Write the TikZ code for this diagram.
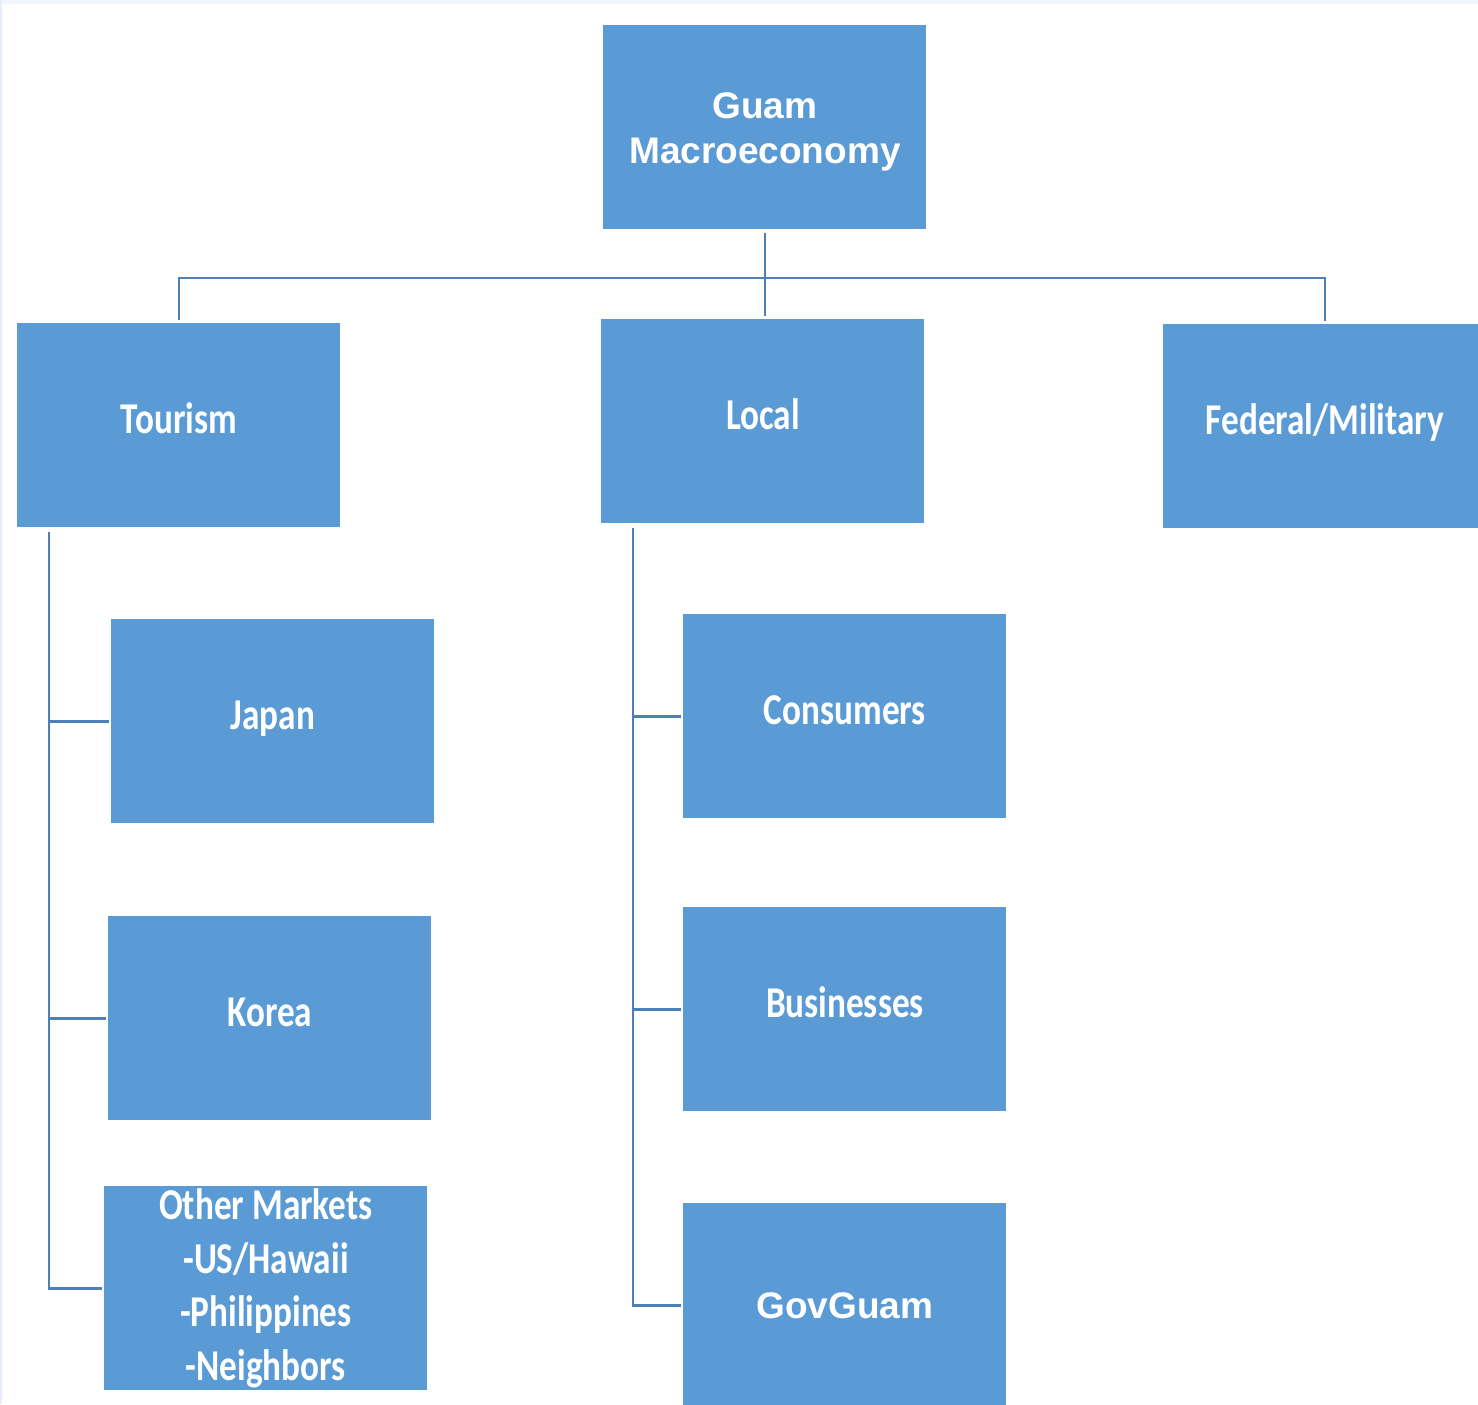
\documentclass[tikz,border=0pt]{standalone}
\usepackage{fontspec}
\newfontfamily\calfont[FakeStretch=0.8]{Carlito}
\newfontfamily\arialfont{Liberation Sans}
\usetikzlibrary{calc}
\definecolor{boxblue}{HTML}{5B9BD5}
\definecolor{lineblue}{HTML}{4E7FB6}
\definecolor{edgegray}{HTML}{F2F6FA}
\definecolor{edgeblue}{HTML}{E4EEF8}
\begin{document}
\begin{tikzpicture}[x=0.5pt,y=-0.5pt,
  box/.style={fill=boxblue, minimum width=161.5pt, minimum height=102pt, inner sep=0pt,
    text=white, align=center, anchor=north west},
  calbox/.style={box, font=\calfont\bfseries\fontsize{22}{26.75}\selectfont},
  onebox/.style={calbox, text height=14.5pt, text depth=6.3pt},
  arbox/.style={box, font=\arialfont\bfseries\fontsize{18.5}{22.5}\selectfont},
  conn/.style={draw=lineblue, line width=1.1pt}]
\useasboundingbox (0,0) rectangle (1478,1404);
\clip (0,0) rectangle (1478,1404);
\fill[edgegray] (0,0) rectangle (1478,4);
\fill[edgeblue] (0,0) rectangle (2,1404);

\node[arbox]  (guam)       at (603,25)   {\rule{0pt}{17.2pt}Guam\\Macroeconomy};
\node[onebox] (tourism)    at (17,323)   {Tourism};
\node[onebox] (local)      at (601,319)  {Local};
\node[onebox] (federal)    at (1163,324) {Federal/Military};
\node[onebox] (japan)      at (111,619)  {Japan};
\node[onebox] (korea)      at (108,916)  {Korea};
\node[calbox] (other)      at (104,1186) {Other Markets\\-US/Hawaii\\-Philippines\\-Neighbors};
\node[onebox] (consumers)  at (683,614)  {Consumers};
\node[onebox] (businesses) at (683,907)  {Businesses};
\node[arbox]  (govguam)    at (683,1203) {GovGuam};

\coordinate (hub) at (764,278);
\draw[conn] ($(guam.south)+(0,3)$) -- ($(guam.south |- local.north)+(0,-3)$);
\draw[conn] ($(tourism.north)+(0,-3)$) |- (hub) -| ($(federal.north)+(0,-3)$);

\coordinate (tspine) at ($(tourism.south west)+(32,4)$);
\draw[conn] (tspine) |- ($(japan.west)+(-2,0)$);
\draw[conn] (tspine) |- ($(korea.west)+(-2,0)$);
\draw[conn] (tspine) |- ($(other.west)+(-2,0)$);

\coordinate (lspine) at ($(local.south west)+(32,4)$);
\draw[conn] (lspine) |- ($(consumers.west)+(-2,0)$);
\draw[conn] (lspine) |- ($(businesses.west)+(-2,0)$);
\draw[conn] (lspine) |- ($(govguam.west)+(-2,0)$);
\end{tikzpicture}
\end{document}
